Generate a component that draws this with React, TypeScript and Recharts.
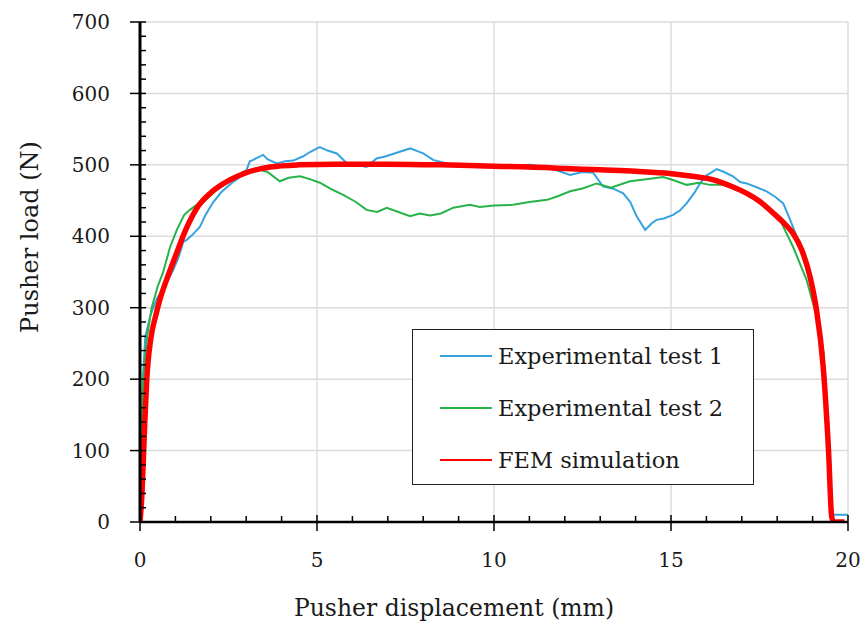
import { LineChart, Line, XAxis, YAxis, CartesianGrid, Legend } from "recharts";

interface Pt {
  x: number;
  y: number;
}

// tick values (mm / N)
const xTicks = [0, 1, 2, 3, 4, 5, 6, 7, 8, 9, 10, 11, 12, 13, 14, 15, 16, 17, 18, 19, 20];
const xLabels = [0, 5, 10, 15, 20];
const yTicks = [
  0, 20, 40, 60, 80, 100, 120, 140, 160, 180, 200, 220, 240, 260, 280, 300, 320, 340, 360, 380, 400,
  420, 440, 460, 480, 500, 520, 540, 560, 580, 600, 620, 640, 660, 680, 700,
];
const yLabels = [0, 100, 200, 300, 400, 500, 600, 700];
const gridX = [5, 10, 15, 20];
const gridY = [100, 200, 300, 400, 500, 600, 700];

// Experimental test 1
const test1X = [
  0, 0.03, 0.08, 0.15, 0.3, 0.47, 0.75, 0.94, 1.1, 1.22, 1.32, 1.5, 1.69, 1.85, 2.07, 2.3, 2.6, 2.8, 3.01,
  3.1, 3.2, 3.48, 3.6, 3.86, 4.1, 4.33, 4.61, 4.8, 5.08, 5.3, 5.56, 5.83, 6.1, 6.4, 6.68, 6.95, 7.25,
  7.63, 8.0, 8.28, 8.66, 9.0, 9.5, 10, 10.5, 11, 11.5, 12.15, 12.5, 12.8, 13.08, 13.4, 13.65, 13.85,
  14.03, 14.27, 14.45, 14.59, 14.8, 15.06, 15.25, 15.44, 15.65, 15.82, 16.0, 16.29, 16.5, 16.75, 16.95,
  17.14, 17.4, 17.7, 17.95, 18.17, 18.35, 18.55, 18.75, 18.95, 19.15, 19.3, 19.4, 19.5, 19.56, 20,
];
const test1Y = [
  0, 100, 200, 260, 290, 312, 335, 353, 372, 392, 395, 403, 413, 430, 448, 462, 475, 482, 493,
  505, 507, 514, 508, 502, 505, 506, 512, 518, 525, 520, 516, 503, 500, 497, 509, 512, 517,
  523, 516, 507, 502, 500, 500, 499, 498, 500, 497, 486, 490, 489, 470, 466, 460, 448,
  428, 409, 418, 423, 425, 430, 436, 446, 460, 474, 485, 494, 490, 484, 476,
  474, 469, 463, 455, 446, 425, 400, 370, 330, 280, 240, 150, 30, 10, 10,
];

// Experimental test 2
const test2X = [
  0, 0.03, 0.09, 0.2, 0.33, 0.5, 0.65, 0.85, 1.05, 1.25, 1.41, 1.6, 1.8, 2.1, 2.5, 2.9, 3.3, 3.6, 3.95,
  4.2, 4.52, 4.8, 5.08, 5.4, 5.74, 6.1, 6.4, 6.7, 6.97, 7.3, 7.63, 7.9, 8.2, 8.5, 8.85, 9.32, 9.6, 10.0,
  10.54, 11.0, 11.5, 11.8, 12.15, 12.5, 12.9, 13.3, 13.84, 14.3, 14.78, 15.1, 15.44, 15.8, 16.1, 16.5,
  17.0, 17.5, 18.08, 18.45, 18.83, 19.1, 19.3, 19.45, 19.55,
];
const test2Y = [
  0, 100, 200, 260, 300, 330, 349, 385, 410, 430, 437, 444, 448, 462, 477, 490, 495, 490, 477,
  482, 484, 480, 475, 466, 458, 448, 437, 434, 440, 434, 428, 432, 429, 432, 440, 444, 441, 443,
  444, 448, 451, 456, 463, 467, 474, 468, 477, 480, 483, 478, 472, 475, 472, 472,
  462, 448, 423, 385, 339, 290, 240, 100, 0,
];

// FEM simulation
const femX = [
  0, 0.05, 0.12, 0.19, 0.3, 0.45, 0.56, 0.75, 1.0, 1.3, 1.6, 2.0, 2.54, 3.0, 3.67, 4.5, 5.5, 7, 8.5, 10,
  11, 12, 13, 14, 14.97, 15.6, 16.2, 16.7, 17.14, 17.5, 17.9, 18.2, 18.45, 18.7, 18.93, 19.1, 19.3,
  19.45, 19.54, 19.6, 19.9,
];
const femY = [
  0, 35, 120, 199, 255, 290, 311, 339, 372, 410, 439, 461, 479, 489, 497, 500, 501, 501, 500, 498,
  497, 495, 493, 491, 488, 484, 479, 470, 460, 449, 432, 418, 404, 380, 343, 300, 217,
  100, 7, 0, 0,
];

const zip = (xs: number[], ys: number[]): Pt[] => xs.map((x, i) => ({ x, y: ys[i] }));

const test1 = zip(test1X, test1Y);
const test2 = zip(test2X, test2Y);
const fem = zip(femX, femY);

const FONT = "'DejaVu Serif', serif";
const INK = "#1a1a1a";

function YTick({ x, y, payload }: any) {
  const v = payload.value as number;
  const major = yLabels.includes(v);
  return (
    <g>
      {major ? (
        <line x1={x - 10} x2={x + 6} y1={y} y2={y} stroke="#000" strokeWidth={1.5} />
      ) : (
        <line x1={x} x2={x + 6} y1={y} y2={y} stroke="#000" strokeWidth={1.5} />
      )}
      {major && (
        <text x={x - 30} y={y} dy="0.36em" textAnchor="end" fontFamily={FONT} fontSize={20} fill={INK}>
          {v}
        </text>
      )}
    </g>
  );
}

function XTick({ x, y, payload }: any) {
  const v = payload.value as number;
  const major = xLabels.includes(v);
  return (
    <g>
      {major ? (
        <line x1={x} x2={x} y1={y - 7} y2={y + 9} stroke="#000" strokeWidth={1.5} />
      ) : (
        <line x1={x} x2={x} y1={y - 6} y2={y} stroke="#000" strokeWidth={1.5} />
      )}
      {major && (
        <text x={x} y={y + 45} textAnchor="middle" fontFamily={FONT} fontSize={20} fill={INK}>
          {v}
        </text>
      )}
    </g>
  );
}

function LegendBox({ payload }: any) {
  return (
    <div
      style={{
        width: 342,
        height: 156,
        boxSizing: "border-box",
        border: "1.5px solid #222",
        background: "#fff",
      }}
    >
      {(payload || []).map((p: any) => (
        <div key={p.value} style={{ display: "flex", alignItems: "center", height: 52 }}>
          <div style={{ width: 52, height: 2, background: p.color, marginLeft: 27, marginRight: 6 }} />
          <span style={{ fontFamily: FONT, fontSize: 22.5, color: INK, whiteSpace: "nowrap" }}>{p.value}</span>
        </div>
      ))}
    </div>
  );
}

export default function App() {
  return (
    <div style={{ position: "absolute", left: 0, top: 0, background: "#fff" }}>
      <LineChart width={863} height={628} margin={{ top: 22, right: 15, bottom: 0, left: 0 }}>
        <CartesianGrid
          stroke="#dcdcdc"
          strokeWidth={1.5}
          horizontalValues={gridY}
          verticalValues={gridX}
        />
        <XAxis
          dataKey="x"
          type="number"
          domain={[0, 20]}
          ticks={xTicks}
          interval={0}
          height={106}
          tickSize={0}
          tickMargin={0}
          tick={<XTick />}
          tickLine={false}
          axisLine={{ stroke: "#000", strokeWidth: 2.5 }}
          allowDataOverflow
          label={{
            value: "Pusher displacement (mm)",
            position: "insideBottom",
            offset: 12,
            dx: -40,
            fontFamily: FONT,
            fontSize: 23.5,
            fill: INK,
          }}
        />
        <XAxis
          xAxisId="top"
          orientation="top"
          type="number"
          domain={[0, 20]}
          height={0}
          tick={false}
          tickLine={false}
          axisLine={{ stroke: "#666", strokeWidth: 2 }}
        />
        <YAxis
          type="number"
          domain={[0, 700]}
          ticks={yTicks}
          interval={0}
          width={140}
          tickSize={0}
          tickMargin={0}
          tick={<YTick />}
          tickLine={false}
          axisLine={{ stroke: "#000", strokeWidth: 3 }}
          allowDataOverflow
          label={{
            value: "Pusher load (N)",
            angle: -90,
            position: "insideLeft",
            offset: 29,
            dy: -35,
            fontFamily: FONT,
            fontSize: 24,
            fill: INK,
            style: { textAnchor: "middle" },
          }}
        />
        <YAxis
          yAxisId="right"
          orientation="right"
          type="number"
          domain={[0, 700]}
          width={0}
          tick={false}
          tickLine={false}
          axisLine={{ stroke: "#666", strokeWidth: 2 }}
        />
        <Line
          data={test1}
          dataKey="y"
          name="Experimental test 1"
          type="linear"
          stroke="#35a3de"
          strokeWidth={2}
          dot={false}
          activeDot={false}
          isAnimationActive={false}
        />
        <Line
          data={test2}
          dataKey="y"
          name="Experimental test 2"
          type="linear"
          stroke="#27b34a"
          strokeWidth={2}
          dot={false}
          activeDot={false}
          isAnimationActive={false}
        />
        <Line
          data={fem}
          dataKey="y"
          name="FEM simulation"
          type="monotone"
          stroke="#ff0000"
          strokeWidth={5.5}
          dot={false}
          activeDot={false}
          isAnimationActive={false}
        />
        <Legend
          layout="vertical"
          align="center"
          verticalAlign="middle"
          content={<LegendBox />}
          wrapperStyle={{ position: "absolute", left: 412, top: 329, width: 342, height: 156 }}
        />
      </LineChart>
    </div>
  );
}
